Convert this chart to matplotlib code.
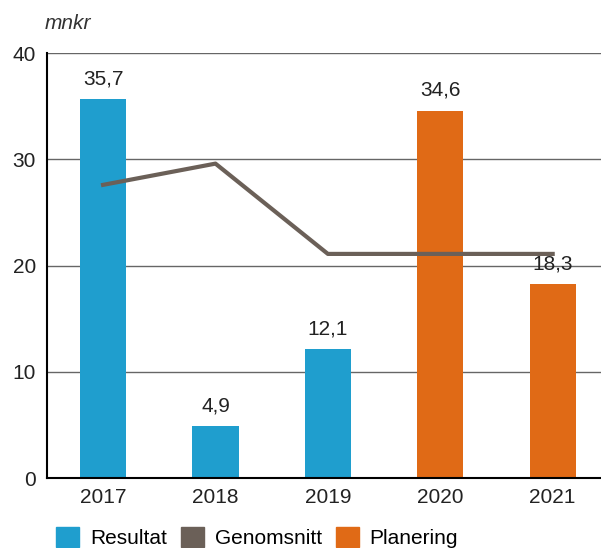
import matplotlib
matplotlib.use("Agg")
import matplotlib.pyplot as plt
from matplotlib.patches import Patch

plt.rcParams['font.family'] = ['Liberation Sans', 'DejaVu Sans']

years = ["2017", "2018", "2019", "2020", "2021"]
resultat = [35.7, 4.9, 12.1, None, None]
planering = [None, None, None, 34.6, 18.3]
genomsnitt = [27.6, 29.6, 21.1, 21.1, 21.1]
labels = ["35,7", "4,9", "12,1", "34,6", "18,3"]

BLUE = "#1F9ECE"
ORANGE = "#E06A16"
GREY = "#6B6058"

fig = plt.figure(figsize=(6.01, 5.48), dpi=100)
ax = fig.add_axes([0.078, 0.1277, 0.922, 0.7753])

x = list(range(len(years)))
bw = 0.41
for i in x:
    if resultat[i] is not None:
        ax.bar(i, resultat[i], width=bw, color=BLUE, zorder=3)
    if planering[i] is not None:
        ax.bar(i, planering[i], width=bw, color=ORANGE, zorder=3)
    val = resultat[i] if resultat[i] is not None else planering[i]
    ax.text(i, val + 1.0, labels[i], ha="center", va="bottom", fontsize=15, color="#222222", zorder=5)

ax.plot(x, genomsnitt, color=GREY, linewidth=3, zorder=4)

ax.set_xlim(-0.5, 4.43)
ax.set_ylim(0, 40)
ax.set_yticks([0, 10, 20, 30, 40])
ax.set_xticks(x)
ax.set_xticklabels(years)
ax.tick_params(axis="both", length=0, labelsize=15, colors="#222222")
ax.tick_params(axis="y", pad=8)
ax.tick_params(axis="x", pad=7)
ax.yaxis.grid(True, color="#666666", linewidth=1.0, zorder=0)
for s in ["top", "right"]:
    ax.spines[s].set_visible(False)
ax.spines["left"].set_color("black")
ax.spines["bottom"].set_color("black")
ax.spines["left"].set_linewidth(1.5)
ax.spines["bottom"].set_linewidth(1.5)
ax.spines["bottom"].set_zorder(6)

fig.text(0.075, 0.957, "mnkr", fontsize=15, style="italic", color="#333333", va="center")

handles = [Patch(color=BLUE, label="Resultat"),
           Patch(color=GREY, label="Genomsnitt"),
           Patch(color=ORANGE, label="Planering")]
fig.legend(handles=handles, loc="center left", bbox_to_anchor=(0.093, 0.019), ncol=3,
           frameon=False, fontsize=15, handlelength=1.1, handleheight=1.1,
           handletextpad=0.53, columnspacing=0.67, borderaxespad=0, borderpad=0)

fig.savefig("out.png", dpi=100)
